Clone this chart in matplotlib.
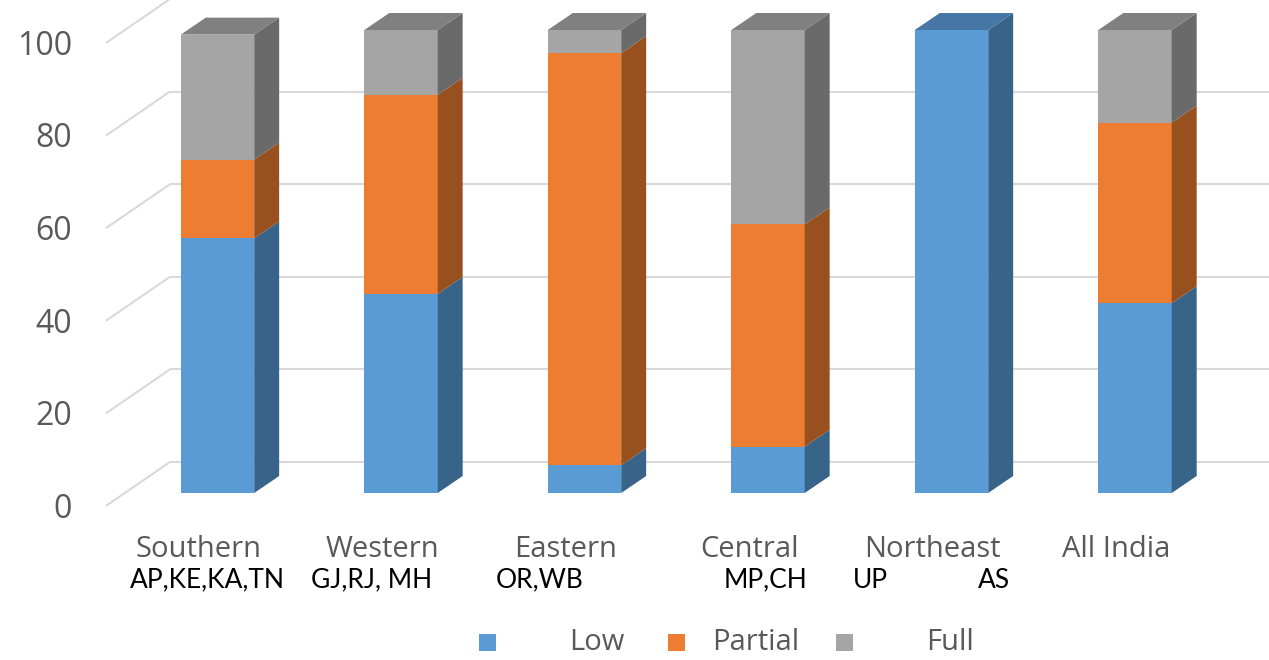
import numpy as np
import matplotlib
matplotlib.use("Agg")
import matplotlib.pyplot as plt
from matplotlib.patches import Polygon, Rectangle

plt.rcParams['font.family'] = ['Open Sans', 'DejaVu Sans']

# regional share of each coverage level (%)
regions = ['Southern', 'Western', 'Eastern', 'Central', 'Northeast', 'All India']
low = [55, 43, 6, 10, 100, 41]
partial = [17, 43, 89, 48, 0, 39]
full = [27, 14, 5, 42, 0, 20]
series_names = ['Low', 'Partial', 'Full']

# state codes printed under the region names
state_labels = ['AP,KE,KA,TN', 'GJ,RJ, MH', 'OR,WB', 'MP,CH', 'UP', 'AS']
state_xpos = [-0.054, 0.839, 1.755, 2.989, 3.56, 4.231]

yticks = [0, 20, 40, 60, 80, 100]

# face colours: front, side, top
shades = {
    'Low': ('#5B9BD5', '#38648A', '#4676A6'),
    'Partial': ('#ED7D31', '#97501E', '#B05C22'),
    'Full': ('#A5A5A5', '#6A6A6A', '#808080'),
}

W, H = 1269, 660
fig = plt.figure(figsize=(W / 100, H / 100), dpi=100)
ax = fig.add_axes([0, 0, 1, 1])
ax.set_xlim(-1.1853, 5.7302)
ax.set_ylim(-36.07, 106.48)
ax.axis('off')

bar_w = 0.40
dx, dy = 0.136, 3.67          # oblique depth of the bars
front_off, back_off = -2.8, 6.7  # floor/wall offsets for the grid
gx_front, gx_back = -0.608, -0.259

# grid: diagonal on the side wall, horizontal on the back wall
for v in yticks:
    ax.plot([gx_front, gx_back], [v + front_off, v + back_off],
            color='#D9D9D9', lw=1.5, zorder=1, solid_capstyle='butt')
    ax.plot([gx_back, 6], [v + back_off, v + back_off],
            color='#D9D9D9', lw=1.5, zorder=1, solid_capstyle='butt')
    ax.text(-0.793, v + front_off - 0.7, str(v), ha='right', va='center',
            fontsize=23, color='#595959')

# stacked 3d-style bars
x = np.arange(len(regions))
data = [low, partial, full]
for i in x:
    x0, x1 = i - bar_w / 2, i + bar_w / 2
    base = 0
    segs = [(n, d[i]) for n, d in zip(series_names, data) if d[i] > 0]
    for k, (name, val) in enumerate(segs):
        front, side, top = shades[name]
        y0, y1 = base, base + val
        ax.add_patch(Polygon([(x0, y0), (x1, y0), (x1, y1), (x0, y1)],
                             closed=True, fc=front, ec='none', zorder=3))
        ax.add_patch(Polygon([(x1, y0), (x1 + dx, y0 + dy), (x1 + dx, y1 + dy), (x1, y1)],
                             closed=True, fc=side, ec='none', zorder=3))
        if k == len(segs) - 1:
            ax.add_patch(Polygon([(x0, y1), (x1, y1), (x1 + dx, y1 + dy), (x0 + dx, y1 + dy)],
                                 closed=True, fc=top, ec='none', zorder=3))
        base = y1

# category labels
for i, name in enumerate(regions):
    ax.text(i - 0.103, -12.2, name, ha='center', va='center',
            fontsize=21, color='#595959')
for lab, xp in zip(state_labels, state_xpos):
    ax.text(xp, -18.8, lab, ha='center', va='center', fontsize=19,
            color='black', family=['Lato', 'DejaVu Sans'])

# legend, laid out by hand
key_px = [487, 676, 844]
text_px = [569, 712, 926]
for name, kx, tx in zip(series_names, key_px, text_px):
    fig.patches.append(Rectangle(((kx - 8.5) / W, 1 - 650.5 / H), 17 / W, 17 / H,
                                 transform=fig.transFigure, fc=shades[name][0], ec='none'))
    fig.text(tx / W, 1 - 643 / H, name, ha='left', va='center',
             fontsize=21, color='#595959')

fig.savefig('out.png', dpi=100)
